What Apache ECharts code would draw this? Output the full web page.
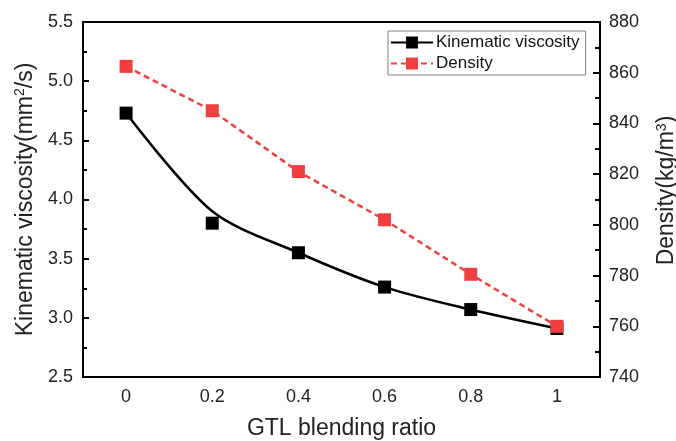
<!DOCTYPE html>
<html>
<head>
<meta charset="utf-8">
<script src="https://cdn.jsdelivr.net/npm/echarts@6/dist/echarts.min.js"></script>
<style>
  html, body { margin: 0; padding: 0; background: #fff; }
  #chart { width: 676px; height: 441px; }
</style>
</head>
<body>
<div id="chart"></div>
<script>
// GTL blending ratio categories
const ratios = ['0', '0.2', '0.4', '0.6', '0.8', '1'];
// Measured kinematic viscosity (mm²/s)
const viscosity = [4.73, 3.80, 3.55, 3.26, 3.07, 2.91];
// Fitted trend through the viscosity measurements
const viscosityFit = [4.73, 3.90, 3.55, 3.26, 3.07, 2.91];
// Density (kg/m³)
const density = [862.5, 845, 821, 802, 780.5, 760];

const FONT = '"Liberation Sans", Arial, sans-serif';
const RED = '#ef3f3f';

const chart = echarts.init(document.getElementById('chart'), null, { renderer: 'canvas' });

const titleRich = {
  sup: { fontSize: 14, verticalAlign: 'top', padding: [0, 0, 10, 0], fontFamily: FONT, color: '#222' }
};

chart.setOption({
  animation: false,
  backgroundColor: '#fff',
  textStyle: { fontFamily: FONT },
  grid: {
    left: 83, right: 76, top: 22, bottom: 64,
    outerBoundsMode: 'none',
    containLabel: false,
    show: true, borderColor: '#000', borderWidth: 2, backgroundColor: 'transparent'
  },
  legend: {
    orient: 'vertical',
    left: 388, top: 31,
    padding: [3, 6, 3, 2],
    itemWidth: 42, itemHeight: 15, itemGap: 4,
    borderColor: '#808080', borderWidth: 1,
    textStyle: { fontSize: 17, color: '#111', fontFamily: FONT, padding: [0, 0, 0, -2] },
    data: ['Kinematic viscosity', 'Density']
  },
  xAxis: [{
    type: 'category',
    data: ratios,
    boundaryGap: true,
    name: 'GTL blending ratio',
    nameLocation: 'middle',
    nameGap: 40,
    nameTextStyle: { fontSize: 23, color: '#222', fontFamily: FONT },
    axisLine: { lineStyle: { color: '#000', width: 2 } },
    axisTick: { inside: true, alignWithLabel: true, length: 7, lineStyle: { color: '#000', width: 2 } },
    axisLabel: { fontSize: 18, color: '#222', margin: 11, fontFamily: FONT },
    splitLine: { show: false }
  }, {
    // minor ticks between categories
    type: 'category',
    data: ratios,
    boundaryGap: true,
    position: 'bottom',
    axisLine: { show: false },
    axisTick: { inside: true, alignWithLabel: false, length: 4, lineStyle: { color: '#000', width: 2 } },
    axisLabel: { show: false },
    splitLine: { show: false }
  }],
  yAxis: [{
    type: 'value',
    min: 2.5, max: 5.5, interval: 0.5,
    name: 'Kinematic viscosity(mm{sup|2}/s)',
    nameLocation: 'middle',
    nameRotate: 90,
    nameGap: 43,
    nameTextStyle: { fontSize: 23, color: '#222', fontFamily: FONT, rich: titleRich },
    axisLine: { show: true, lineStyle: { color: '#000', width: 2 } },
    axisTick: { show: true, inside: true, length: 6, lineStyle: { color: '#000', width: 2 } },
    minorTick: { show: true, splitNumber: 2, length: 4, lineStyle: { color: '#000', width: 2 } },
    axisLabel: { fontSize: 18, color: '#222', margin: 10, fontFamily: FONT, formatter: v => v.toFixed(1) },
    splitLine: { show: false }
  }, {
    type: 'value',
    min: 740, max: 880, interval: 20,
    position: 'right',
    name: 'Density(kg/m{sup|3})',
    nameLocation: 'middle',
    nameRotate: 90,
    nameGap: 55,
    nameTextStyle: { fontSize: 23, color: '#222', fontFamily: FONT, rich: titleRich, padding: [0, 0, 0, 18] },
    axisLine: { show: true, lineStyle: { color: '#000', width: 2 } },
    axisTick: { show: true, inside: true, length: 7, lineStyle: { color: '#000', width: 2 } },
    minorTick: { show: true, splitNumber: 2, length: 5, lineStyle: { color: '#000', width: 2 } },
    axisLabel: { fontSize: 18, color: '#222', margin: 9, fontFamily: FONT },
    splitLine: { show: false }
  }],
  series: [{
    name: 'Kinematic viscosity',
    type: 'line',
    yAxisIndex: 0,
    data: viscosityFit,
    smooth: 0.3,
    symbol: 'rect',
    symbolSize: 13,
    showSymbol: false,
    lineStyle: { color: '#000', width: 2.5 },
    itemStyle: { color: '#000' },
    z: 2
  }, {
    name: 'Kinematic viscosity (measured)',
    type: 'line',
    yAxisIndex: 0,
    data: viscosity,
    symbol: 'rect',
    symbolSize: 13,
    lineStyle: { width: 0, opacity: 0 },
    itemStyle: { color: '#000' },
    z: 3
  }, {
    name: 'Density',
    type: 'line',
    yAxisIndex: 1,
    data: density,
    symbol: 'rect',
    symbolSize: 13,
    lineStyle: { color: RED, width: 2.5, type: [6, 4] },
    itemStyle: { color: RED },
    z: 4
  }]
});
</script>
</body>
</html>
